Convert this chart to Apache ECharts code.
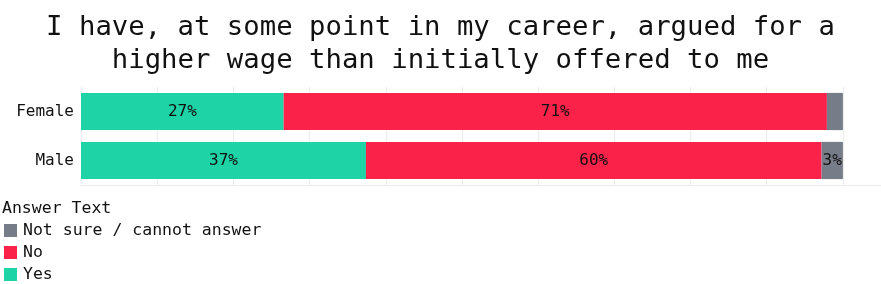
<!DOCTYPE html>
<html>
<head>
<meta charset="utf-8">
<script src="https://cdn.jsdelivr.net/npm/echarts@6/dist/echarts.min.js"></script>
<style>
html,body{margin:0;padding:0;background:#fff;}
#chart{width:881px;height:284px;}
</style>
</head>
<body>
<div id="chart"></div>
<script>
const titleText = "I have, at some point in my career, argued for a\nhigher wage than initially offered to me";
const categories = ["Female", "Male"];
const yesValues = [26.6, 37.4];
const noValues = [71.3, 59.8];
const notSureValues = [2.1, 2.8];
const seriesNames = ["Yes", "No", "Not sure / cannot answer"];
const legendOrder = ["Not sure / cannot answer", "No", "Yes"];
const legendTitle = "Answer Text";

const FONT = "'DejaVu Sans Mono', monospace";
const colors = {"Yes": "#1ed3a6", "No": "#fb2249", "Not sure / cannot answer": "#777c89"};

const chart = echarts.init(document.getElementById('chart'), null, {renderer: 'canvas'});

function mkSeries(name, data) {
  return {
    name: name,
    type: 'bar',
    stack: 'total',
    data: data,
    barCategoryGap: '24%',
    itemStyle: {color: colors[name]},
    label: {
      show: true,
      position: 'inside',
      fontFamily: FONT,
      fontSize: 16,
      color: '#111',
      formatter: p => p.value < 2.5 ? '' : Math.round(p.value) + '%'
    },
    emphasis: {disabled: true}
  };
}

const legendTops = [222, 244, 266];
const legends = legendOrder.map((name, i) => ({
  data: [name],
  orient: 'vertical',
  left: 4,
  top: legendTops[i],
  padding: 0,
  itemWidth: 13,
  itemHeight: 13,
  icon: 'rect',
  textStyle: {fontFamily: FONT, fontSize: 16.5, color: '#111', lineHeight: 13, padding: [0, 0, 0, 1]},
  selectedMode: false
}));

chart.setOption({
  animation: false,
  backgroundColor: '#fff',
  textStyle: {fontFamily: FONT},
  title: {
    text: titleText,
    left: 'center',
    top: 6,
    textStyle: {fontFamily: FONT, fontSize: 27.3, fontWeight: 'normal', color: '#111', lineHeight: 33}
  },
  graphic: [{
    type: 'text',
    left: 2,
    top: 200,
    style: {text: legendTitle, font: "16.5px 'DejaVu Sans Mono'", fill: '#111'}
  }],
  legend: legends,
  grid: {left: 81, right: 0, top: 87, bottom: 99, containLabel: false},
  xAxis: {
    type: 'value',
    min: 0,
    max: 105,
    interval: 10,
    axisLabel: {show: false},
    axisTick: {show: false},
    axisLine: {show: true, lineStyle: {color: '#ebebeb'}},
    splitLine: {show: true, lineStyle: {color: '#ebebeb'}}
  },
  yAxis: {
    type: 'category',
    data: categories,
    inverse: true,
    axisLine: {show: false},
    axisTick: {show: false},
    axisLabel: {fontFamily: FONT, fontSize: 16, color: '#111', margin: 7},
    splitLine: {show: false}
  },
  series: [
    mkSeries(seriesNames[0], yesValues),
    mkSeries(seriesNames[1], noValues),
    mkSeries(seriesNames[2], notSureValues)
  ]
});
</script>
</body>
</html>
